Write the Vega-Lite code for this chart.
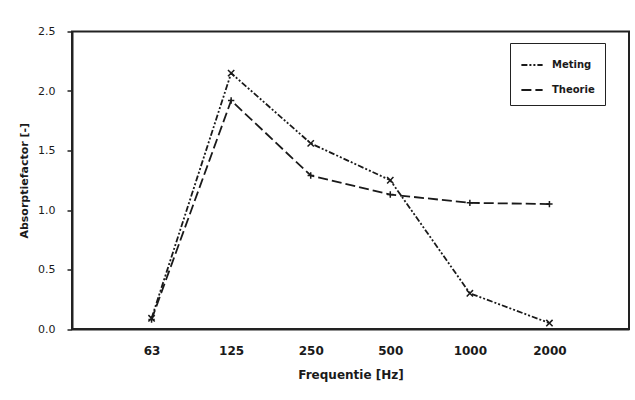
{
  "$schema": "https://vega.github.io/schema/vega-lite/v6.json",
  "width": 557,
  "height": 297.5,
  "autosize": {"type": "none"},
  "padding": {"left": 72, "top": 31.5, "right": 6, "bottom": 71},
  "background": "white",
  "config": {
    "view": {"stroke": "#222", "strokeWidth": 2},
    "font": "DejaVu Sans"
  },
  "data": {
    "values": [
      {"freq": "63", "series": "Meting", "value": 0.09},
      {"freq": "125", "series": "Meting", "value": 2.15},
      {"freq": "250", "series": "Meting", "value": 1.56},
      {"freq": "500", "series": "Meting", "value": 1.25},
      {"freq": "1000", "series": "Meting", "value": 0.3},
      {"freq": "2000", "series": "Meting", "value": 0.05},
      {"freq": "63", "series": "Theorie", "value": 0.08},
      {"freq": "125", "series": "Theorie", "value": 1.92},
      {"freq": "250", "series": "Theorie", "value": 1.29},
      {"freq": "500", "series": "Theorie", "value": 1.13},
      {"freq": "1000", "series": "Theorie", "value": 1.06},
      {"freq": "2000", "series": "Theorie", "value": 1.05}
    ]
  },
  "encoding": {
    "x": {
      "field": "freq",
      "type": "ordinal",
      "sort": ["63", "125", "250", "500", "1000", "2000"],
      "scale": {"type": "point", "padding": 1},
      "axis": {
        "title": "Frequentie [Hz]",
        "labelAngle": 0,
        "ticks": false,
        "grid": false,
        "domainColor": "#222",
        "domainWidth": 2,
        "labelFont": "DejaVu Sans",
        "labelFontSize": 12,
        "labelFontWeight": "bold",
        "labelColor": "#1a1a1a",
        "labelPadding": 16,
        "titleFont": "DejaVu Sans",
        "titleFontSize": 12,
        "titleFontWeight": "bold",
        "titleColor": "#1a1a1a",
        "titlePadding": 13
      }
    },
    "y": {
      "field": "value",
      "type": "quantitative",
      "scale": {"domain": [0, 2.5], "nice": false},
      "axis": {
        "title": "Absorptiefactor [-]",
        "values": [0, 0.5, 1, 1.5, 2, 2.5],
        "format": ".1f",
        "grid": false,
        "domainColor": "#222",
        "domainWidth": 2,
        "tickColor": "#222",
        "tickSize": 5,
        "tickWidth": 1.5,
        "labelFont": "DejaVu Sans",
        "labelFontSize": 11,
        "labelColor": "#1a1a1a",
        "labelPadding": 12,
        "titleFont": "DejaVu Sans",
        "titleFontSize": 11,
        "titleFontWeight": "bold",
        "titleColor": "#1a1a1a",
        "titlePadding": 8
      }
    }
  },
  "layer": [
    {
      "mark": {"type": "line", "strokeWidth": 1.8, "color": "#1a1a1a"},
      "encoding": {
        "strokeDash": {
          "field": "series",
          "type": "nominal",
          "scale": {"domain": ["Meting", "Theorie"], "range": [[6, 2, 2, 2, 2, 2], [10, 4]]},
          "legend": {
            "title": null,
            "orient": "none",
            "legendX": 438,
            "legendY": 11.5,
            "strokeColor": "#222",
            "fillColor": "white",
            "padding": 10,
            "rowPadding": 8,
            "symbolType": "stroke",
            "symbolStrokeColor": "#1a1a1a",
            "symbolStrokeWidth": 1.8,
            "symbolSize": 450,
            "labelFont": "DejaVu Sans",
            "labelFontSize": 10,
            "labelFontWeight": "bold",
            "labelColor": "#1a1a1a",
            "labelOffset": 8
          }
        }
      }
    },
    {
      "transform": [{"filter": "datum.series === 'Meting'"}],
      "mark": {"type": "point", "shape": "M-1,-1L1,1M-1,1L1,-1", "filled": false, "strokeWidth": 1.5, "color": "#1a1a1a", "size": 40, "opacity": 1}
    },
    {
      "transform": [{"filter": "datum.series === 'Theorie'"}],
      "mark": {"type": "point", "shape": "M-1,0L1,0M0,-1L0,1", "filled": false, "strokeWidth": 1.5, "color": "#1a1a1a", "size": 40, "opacity": 1}
    }
  ]
}
